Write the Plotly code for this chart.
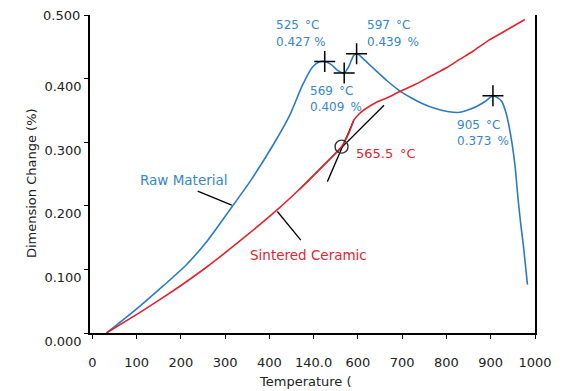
import plotly.graph_objects as go

# Raw material (blue) curve
raw_t = [32, 107, 160, 212, 260, 310, 360, 407, 445, 475, 497, 512, 525, 540, 554, 569, 580, 590, 597, 601, 620, 640, 665, 692, 720, 745, 775, 805, 830, 850, 870, 887, 898, 905, 915, 925, 935, 947, 955, 962, 968, 974, 983]
raw_y = [0.0, 0.042, 0.074, 0.107, 0.145, 0.193, 0.242, 0.294, 0.341, 0.390, 0.418, 0.426, 0.427, 0.422, 0.413, 0.409, 0.420, 0.436, 0.439, 0.438, 0.426, 0.413, 0.397, 0.382, 0.370, 0.361, 0.353, 0.348, 0.347, 0.351, 0.357, 0.364, 0.370, 0.373, 0.370, 0.364, 0.345, 0.303, 0.262, 0.209, 0.170, 0.136, 0.076]

# Sintered ceramic (red) curve
sin_t = [32, 107, 182, 257, 332, 418, 471, 520, 563, 580, 591, 602, 614, 640, 670, 692, 730, 767, 800, 827, 860, 895, 935, 977]
sin_y = [0.0, 0.032, 0.066, 0.103, 0.144, 0.194, 0.228, 0.262, 0.293, 0.315, 0.335, 0.344, 0.351, 0.362, 0.371, 0.379, 0.391, 0.405, 0.417, 0.429, 0.443, 0.460, 0.476, 0.493]

# Peak markers
peak_t = [525, 569, 597, 905]
peak_y = [0.427, 0.409, 0.439, 0.373]

# Onset point
onset_t = [563]
onset_y = [0.293]

# Tangent lines
tan1_t = [467, 659]
tan1_y = [0.225, 0.358]
tan2_t = [531, 591]
tan2_y = [0.238, 0.335]

# Leader lines
lead_raw_t = [238, 315]
lead_raw_y = [0.223, 0.201]
lead_sin_t = [418, 471]
lead_sin_y = [0.191, 0.146]

x_ticks = [0, 100, 200, 300, 400, 500, 600, 700, 800, 900, 1000]
x_tick_text = ["0", "100", "200", "300", "400", "140.0", "600", "700", "800", "900", "1000"]
y_ticks = [0.0, 0.1, 0.2, 0.3, 0.4, 0.5]
y_tick_text = ["0.000", "0.100", "0.200", "0.300", "0.400", ""]
y_top_label = "0.500"

BLUE = "#2b7bc0"
BLUE_TXT = "#3886c8"
RED = "#e0252f"
FONT = "DejaVu Sans"
TXT = "#222222"
SP = "\u00a0\u2009"

fig = go.Figure()
fig.add_trace(go.Scatter(x=tan1_t, y=tan1_y, mode="lines", line=dict(color="black", width=1.3), hoverinfo="skip"))
fig.add_trace(go.Scatter(x=tan2_t, y=tan2_y, mode="lines", line=dict(color="black", width=1.3), hoverinfo="skip"))
fig.add_trace(go.Scatter(x=raw_t, y=raw_y, mode="lines", line=dict(color=BLUE, width=1.6, shape="spline", smoothing=0.6)))
fig.add_trace(go.Scatter(x=sin_t, y=sin_y, mode="lines", line=dict(color=RED, width=1.6, shape="spline", smoothing=0.4)))
fig.add_trace(go.Scatter(x=lead_raw_t, y=lead_raw_y, mode="lines", line=dict(color="black", width=1.3)))
fig.add_trace(go.Scatter(x=lead_sin_t, y=lead_sin_y, mode="lines", line=dict(color="black", width=1.3)))
fig.add_trace(go.Scatter(x=peak_t, y=peak_y, mode="markers",
                         marker=dict(symbol="cross-thin", size=15, line=dict(color="black", width=1.5))))
fig.add_trace(go.Scatter(x=onset_t, y=onset_y, mode="markers",
                         marker=dict(symbol="circle-open", size=13, color="#333333", line=dict(width=1.4))))

def ann(x, y, text, color, size=12, anchor="left"):
    fig.add_annotation(x=x, y=y, xref="x", yref="y", text=text, showarrow=False,
                       xanchor=anchor, yanchor="middle", font=dict(family=FONT, size=size, color=color))

ann(411, 0.484, "525" + SP + "°C", BLUE_TXT)
ann(411, 0.457, "0.427 %", BLUE_TXT)
ann(616, 0.484, "597" + SP + "°C", BLUE_TXT)
ann(616, 0.457, "0.439" + SP + "%", BLUE_TXT)
ann(487.6, 0.381, "569" + SP + "°C", BLUE_TXT)
ann(487.6, 0.356, "0.409" + SP + "%", BLUE_TXT)
ann(820, 0.327, "905" + SP + "°C", BLUE_TXT)
ann(820, 0.302, "0.373" + SP + "%", BLUE_TXT)
ann(591, 0.2815, "565.5" + SP + "°C", RED, size=13)
ann(103.5, 0.2407, "Raw Material", BLUE_TXT, size=13.5)
ann(351, 0.122, "Sintered Ceramic", RED, size=13.5)

fig.add_annotation(x=-0.0179, y=0.5, xref="paper", yref="y", text=y_top_label, showarrow=False,
                   xanchor="right", yanchor="middle", font=dict(family=FONT, size=13, color=TXT))
fig.add_annotation(x=0.4836, y=-0.153, xref="paper", yref="paper", text="Temperature (",
                   showarrow=False, xanchor="center", yanchor="middle",
                   font=dict(family=FONT, size=13, color=TXT))
fig.add_annotation(x=-0.13, y=0.472, xref="paper", yref="paper", text="Dimension Change (%)",
                   showarrow=False, xanchor="center", yanchor="middle", textangle=-90,
                   font=dict(family=FONT, size=13, color=TXT))

fig.update_layout(
    width=564, height=391,
    margin=dict(l=90, r=27, t=15, b=58),
    paper_bgcolor="white", plot_bgcolor="white",
    showlegend=False,
    font=dict(family=FONT, size=13, color=TXT),
    xaxis=dict(range=[-5.2, 1000], tickvals=x_ticks, ticktext=x_tick_text,
               showgrid=False, zeroline=False, showline=True, linecolor="black", linewidth=1.5,
               ticks="outside", ticklen=4, tickcolor="black", tickwidth=1.2, ticklabelstandoff=13),
    yaxis=dict(range=[0, 0.5], tickvals=y_ticks, ticktext=y_tick_text,
               showgrid=False, zeroline=False, showline=True, linecolor="black", linewidth=1.5,
               mirror=True, ticks="outside", ticklen=4, tickcolor="black", tickwidth=1.2,
               ticklabelshift=8),
)

fig.write_html("out.html")
